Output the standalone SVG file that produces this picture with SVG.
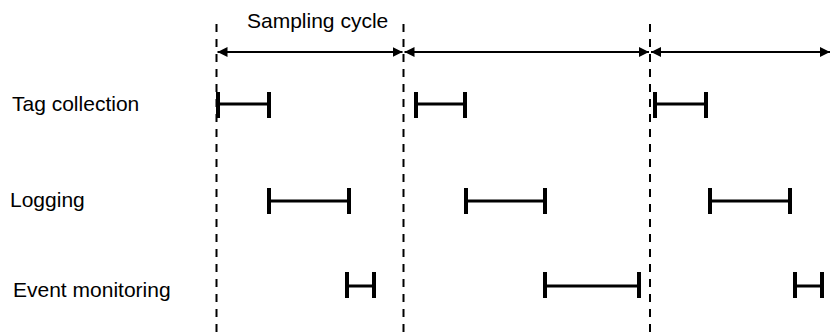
<svg xmlns="http://www.w3.org/2000/svg" width="831" height="336" viewBox="0 0 831 336">
<style>
text{font-family:"Liberation Sans",Arial,sans-serif;font-size:21px;fill:#000}
.dash{stroke:#000;stroke-width:2;stroke-dasharray:8 7;fill:none}
.arr{stroke:#000;stroke-width:2;fill:none;marker-start:url(#ah);marker-end:url(#ah)}
.bar{stroke:#000;stroke-width:3;fill:none}
.tick{stroke:#000;stroke-width:4;fill:none}
</style>
<defs>
<marker id="ah" viewBox="0 0 10 10" refX="10" refY="5" markerWidth="5" markerHeight="5" orient="auto-start-reverse" markerUnits="strokeWidth">
<path d="M0,0 L10,5 L0,10 Z" fill="#000"/>
</marker>
</defs>
<g id="labels">
<text id="sampling-cycle" x="247" y="28">Sampling cycle</text>
<text id="tag-collection" x="12" y="111">Tag collection</text>
<text id="logging" x="10" y="207">Logging</text>
<text id="event-monitoring" x="13" y="297">Event monitoring</text>
</g>
<g id="connectors">
<line class="dash" x1="216.5" y1="24" x2="216.5" y2="336"/>
<line class="dash" x1="403.5" y1="24" x2="403.5" y2="336"/>
<line class="dash" x1="650" y1="24" x2="650" y2="336"/>
<line class="arr" x1="217.5" y1="52" x2="402.5" y2="52"/>
<line class="arr" x1="404.5" y1="52" x2="649" y2="52"/>
<line class="arr" x1="651" y1="52" x2="830" y2="52"/>
</g>
<g id="tag-collection-bars">
<path class="bar" d="M218,104H269M416,104H465M655,104H706"/>
<path class="tick" d="M218,92V118M269,92V118M416,92V118M465,92V118M655,92V118M706,92V118"/>
</g>
<g id="logging-bars">
<path class="bar" d="M269,201H349M466,201H545M710,201H790"/>
<path class="tick" d="M269,188V214M349,188V214M466,188V214M545,188V214M710,188V214M790,188V214"/>
</g>
<g id="event-monitoring-bars">
<path class="bar" d="M347,286H374M545,286H639M795,286H822"/>
<path class="tick" d="M347,272V298M374,272V298M545,272V298M639,272V298M795,272V298M822,272V298"/>
</g>
</svg>
